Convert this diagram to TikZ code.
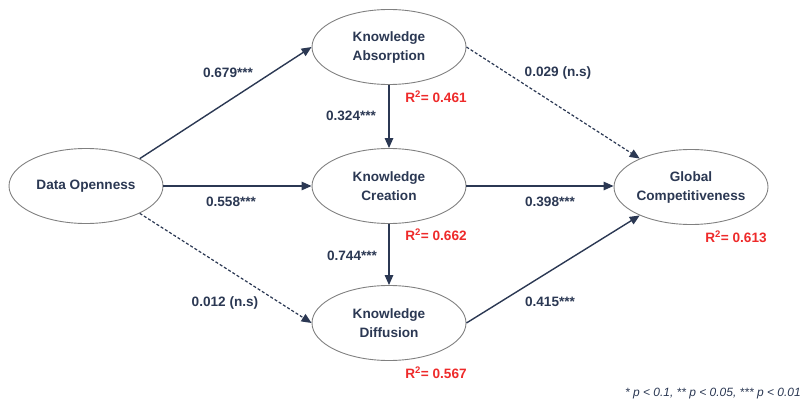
\documentclass[tikz,border=0pt]{standalone}
\usepackage{fontspec}
\setmainfont{Liberation Sans}
\usetikzlibrary{shapes.geometric,arrows.meta}
\definecolor{navy}{HTML}{2B3853}
\definecolor{rgray}{HTML}{808080}
\definecolor{rred}{HTML}{EE2A2A}
\begin{document}
\begin{tikzpicture}[x=1pt,y=-1pt,
  latent/.style={ellipse,draw=rgray,line width=0.9pt,fill=white,minimum width=154pt,minimum height=75pt,inner sep=0pt,align=center,font=\fontsize{13.6}{19}\selectfont\bfseries,text=navy},
  pathline/.style={draw=navy,line width=1.4pt,-{Triangle[length=10pt,width=8.5pt]}},
  nspath/.style={pathline,line width=1.2pt,dash pattern=on 3pt off 2pt},
  coef/.style={font=\fontsize{13.6}{15}\selectfont\bfseries,text=navy,inner sep=0pt},
  rsq/.style={font=\fontsize{13.6}{15}\selectfont\bfseries,text=rred,inner sep=0pt},
  note/.style={font=\fontsize{12}{14}\selectfont\itshape,text=navy,inner sep=0pt}]
\useasboundingbox (0,0) rectangle (803,401);

\node[latent] (DO) at (86,186) {Data Openness};
\node[latent] (KA) at (389,47) {Knowledge\\Absorption};
\node[latent] (KC) at (389,186) {Knowledge\\Creation};
\node[latent] (KD) at (389,323) {Knowledge\\Diffusion};
\node[latent] (GC) at (691,187) {Global\\Competitiveness};

\draw[pathline] (DO.27) -- (KA.west);
\draw[pathline] (DO.east) -- (DO.east -| KC.west);
\draw[nspath] (DO.333) -- (KD.west);
\draw[nspath] (KA.east) -- (GC.151);
\draw[pathline] (KC.east) -- (KC.east -| GC.west);
\draw[pathline] (KD.east) -- (GC.209);
\draw[pathline] (KA.south) -- (KC.north);
\draw[pathline] (KC.south) -- (KD.north);

\node[coef] (c1) at (228,73) {0.679***};
\node[coef] (c2) at (231,202) {0.558***};
\node[coef] (c3) at (225,303) {0.012 (n.s)};
\node[coef] (c4) at (558,73) {0.029 (n.s)};
\node[coef] (c5) at (550,202) {0.398***};
\node[coef] (c6) at (550,302) {0.415***};
\node[coef] (c7) at (351,116) {0.324***};
\node[coef] (c8) at (352,256) {0.744***};

\node[rsq] (r1) at (436,97) {R\textsuperscript{2}= 0.461};
\node[rsq] (r2) at (436,235) {R\textsuperscript{2}= 0.662};
\node[rsq] (r3) at (436,373) {R\textsuperscript{2}= 0.567};
\node[rsq] (r4) at (736,237) {R\textsuperscript{2}= 0.613};

\node[note,anchor=east] (fn) at (801,394) {* p < 0.1, ** p < 0.05, *** p < 0.01};
\end{tikzpicture}
\end{document}
